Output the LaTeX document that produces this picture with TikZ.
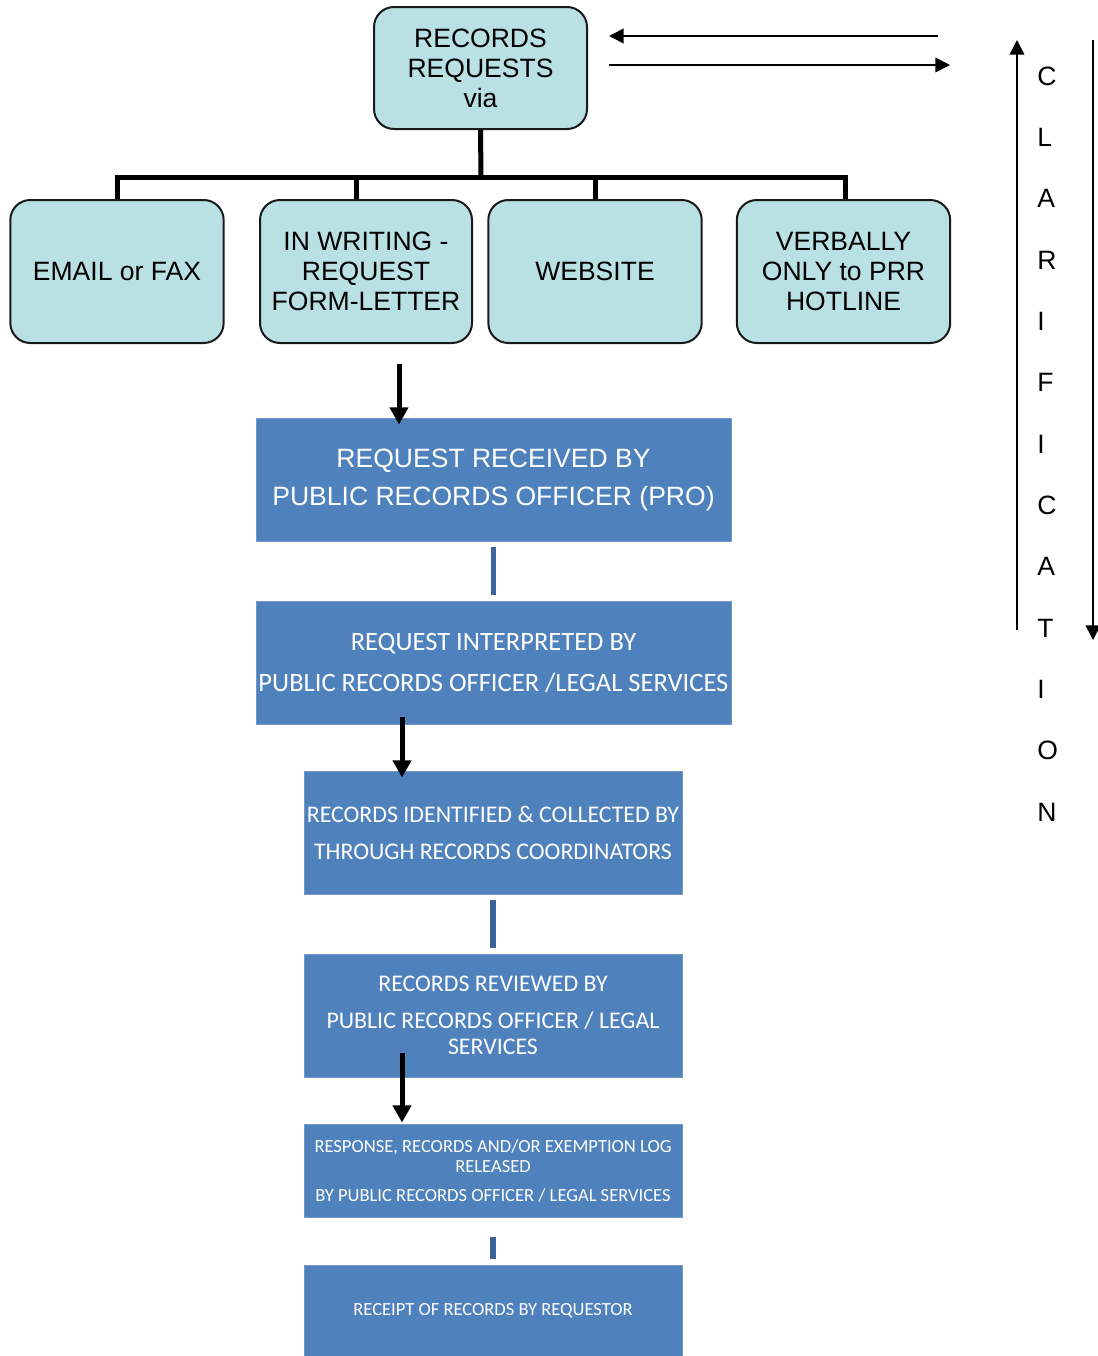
\documentclass[tikz,border=0pt]{standalone}
\usepackage{fontspec}
\setmainfont{Liberation Sans}
\newfontfamily\calfont{Carlito}
\usetikzlibrary{arrows.meta,calc}
\definecolor{lightbox}{RGB}{185,224,227}
\definecolor{bluebox}{RGB}{79,129,189}
\definecolor{blueedge}{RGB}{115,152,200}
\definecolor{blueline}{RGB}{60,100,155}
\begin{document}
\begin{tikzpicture}[x=0.75pt,y=-0.75pt,
  lbox/.style={draw=black!90, line width=1.5pt, fill=lightbox, rounded corners=15pt,
    minimum width=160pt, minimum height=107.25pt, inner sep=0pt, align=center,
    font=\fontsize{19.9}{22.5}\selectfont},
  bbox/.style={draw=blueedge, line width=0.6pt, fill=bluebox, text=white,
    inner sep=0pt, align=center},
  widebox/.style={bbox, minimum width=356.25pt, minimum height=92.25pt},
  narrowbox/.style={bbox, minimum width=283.5pt},
  tree/.style={line width=3.75pt},
  bigarr/.style={line width=3.75pt, -{Triangle[length=13pt,width=13.5pt]}},
  thinarr/.style={line width=1.3pt, -{Triangle[length=11pt,width=11pt]}},
  bluecon/.style={draw=blueline, line width=4pt},
  clar/.style={anchor=west, inner sep=0pt, font=\fontsize{19.9}{22.5}\selectfont}
]
\useasboundingbox (0,0) rectangle (1097,1356);

% top node and source nodes
\node[lbox, minimum width=159.75pt, minimum height=91.5pt] (top) at (480.5,68) {RECORDS\\REQUESTS\\via};
\node[lbox] (email) at (117,271.5) {EMAIL or FAX};
\node[lbox, minimum width=159pt] (writing) at (366,271.5) {IN WRITING -\\REQUEST\\FORM-LETTER};
\node[lbox] (website) at (595,271.5) {WEBSITE};
\node[lbox] (verbal) at (843.5,271.5) {VERBALLY\\ONLY to PRR\\HOTLINE};

% tree
\coordinate (hub) at (481,177);
\draw[tree] (top.south) -- (hub);
\draw[tree] (email.north) -- (email.north |- hub) -- ($(verbal.north |- hub)+(1.5,0)$) -- ($(verbal.north)+(1.5,0)$);
\draw[tree] ($(writing.north)+(-10,0)$) -- ($(writing.north |- hub)+(-10,0)$);
\draw[tree] (website.north) -- (website.north |- hub);

% feedback arrows at top
\coordinate (back) at (938,36);
\coordinate (fwd) at (950,65);
\draw[thinarr] (back) -- ($(top.east)+(21,-32)$);
\draw[thinarr] ($(top.east)+(21,-3)$) -- (fwd);

% process boxes
\node[widebox, font=\fontsize{19.9}{28.5}\selectfont] (rec) at (493.5,479.5)
  {REQUEST RECEIVED BY\\PUBLIC RECORDS OFFICER (PRO)};
\node[widebox, font=\calfont\fontsize{19.9}{30.75}\selectfont] (interp) at (493.5,662.5)
  {REQUEST INTERPRETED BY\\PUBLIC RECORDS OFFICER /LEGAL SERVICES};
\node[narrowbox, minimum height=92.25pt, font=\calfont\fontsize{17.9}{27.75}\selectfont] (ident) at (493,832.5)
  {RECORDS IDENTIFIED \& COLLECTED BY\\THROUGH RECORDS COORDINATORS};
\node[narrowbox, minimum height=92.25pt, font=\calfont\fontsize{17.9}{19.5}\selectfont] (review) at (493,1015.5)
  {RECORDS REVIEWED BY\\[8.25pt]PUBLIC RECORDS OFFICER / LEGAL\\SERVICES};
\node[narrowbox, minimum height=69.75pt, font=\calfont\fontsize{13.9}{15}\selectfont] (resp) at (493,1170.5)
  {RESPONSE, RECORDS AND/OR EXEMPTION LOG\\RELEASED\\[6.75pt]BY PUBLIC RECORDS OFFICER / LEGAL SERVICES};
\node[narrowbox, minimum height=68.25pt, font=\calfont\fontsize{13.9}{15}\selectfont] (receipt) at (493,1310.5)
  {RECEIPT OF RECORDS BY REQUESTOR};

% connectors
\draw[bigarr] ($(writing.south)+(33,20)$) -- ($(rec.north)+(-94.5,7)$);
\draw[bluecon, shorten <=4.5pt, shorten >=4.5pt] (rec.south) -- (interp.north);
\draw[bigarr] ($(interp.south)+(-91.5,-7)$) -- ($(ident.north)+(-91,7)$);
\draw[bluecon, shorten <=4.5pt, shorten >=4.5pt] (ident.south) -- (review.north);
\draw[bigarr] ($(review.south)+(-91,-24)$) -- ($(resp.north)+(-91,-1)$);
\draw[bluecon, shorten <=15pt, shorten >=4.5pt] (resp.south) -- (receipt.north);

% clarification
\foreach \l [count=\i] in {C,L,A,R,I,F,I,C,A,T,I,O,N}
  \node[clar] (c\i) at (1037,{76+61.33*(\i-1)}) {\l};
\coordinate (upstart) at (1017,630);
\coordinate (upend) at (1017,40);
\coordinate (downstart) at (1093,40);
\coordinate (downend) at (1093,640);
\draw[thinarr] (upstart) -- (upend);
\draw[thinarr] (downstart) -- (downend);
\end{tikzpicture}
\end{document}
